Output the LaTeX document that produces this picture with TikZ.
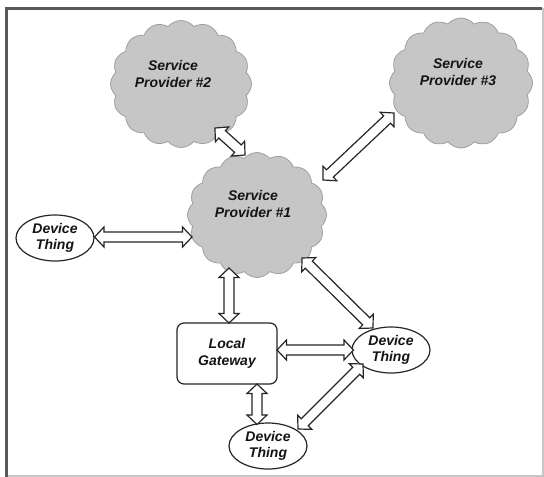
\documentclass[tikz,border=0pt]{standalone}
\usepackage{fontspec}
\setmainfont{Liberation Sans}
\usetikzlibrary{shapes.symbols,shapes.geometric,calc}

% hollow two-headed block arrow between two named points
\newcommand\fatarrow[2]{%
  \draw[blockarrow]
    (#1)
    -- ($(#1)!9.5pt!(#2)!10pt!90:(#2)$)
    -- ($(#1)!9.5pt!(#2)!5pt!90:(#2)$)
    -- ($(#2)!9.5pt!(#1)!5pt!-90:(#1)$)
    -- ($(#2)!9.5pt!(#1)!10pt!-90:(#1)$)
    -- (#2)
    -- ($(#2)!9.5pt!(#1)!10pt!90:(#1)$)
    -- ($(#2)!9.5pt!(#1)!5pt!90:(#1)$)
    -- ($(#1)!9.5pt!(#2)!5pt!-90:(#2)$)
    -- ($(#1)!9.5pt!(#2)!10pt!-90:(#2)$)
    -- cycle;}

\begin{document}
\begin{tikzpicture}[x=1pt,y=-1pt,
  lbl/.style={font=\fontsize{14}{16.5}\selectfont\bfseries\itshape,
    text=black!92, align=center, inner sep=0pt},
  provider/.style={cloud, cloud puffs=16, cloud puff arc=100, aspect=1.1,
    fill=gray!45, draw=gray!75, line width=0.8pt, inner sep=0pt},
  device/.style={ellipse, draw=black!85, fill=white, line width=1.2pt,
    minimum width=78pt, minimum height=46pt, inner sep=0pt, lbl},
  gateway/.style={rectangle, rounded corners=7pt, draw=black!85, fill=white,
    line width=1.2pt, minimum width=100pt, minimum height=61pt, inner sep=0pt, lbl},
  blockarrow/.style={draw=black!85, fill=white, line width=1.2pt, line join=miter}]

\useasboundingbox (0,0) rectangle (544,477);
\fill[white] (0,0) rectangle (544,477);

% frame
\draw[black!65, line width=3pt] (6.5,477) -- (6.5,8.5) -- (542,8.5);
\draw[black!22, line width=2pt] (542.5,8) -- (542.5,475.5) -- (8,475.5);

% service provider clouds
\node[provider, minimum width=141pt, minimum height=127pt] (sp2) at (181,84) {};
\node[lbl] (sp2t) at (173,74) {Service\\Provider \#2};

\node[provider, minimum width=143pt, minimum height=130pt] (sp3) at (461,83) {};
\node[lbl] (sp3t) at (458,72) {Service\\Provider \#3};

\node[provider, minimum width=139pt, minimum height=125pt] (sp1) at (257,215) {};
\node[lbl] (sp1t) at (253,204) {Service\\Provider \#1};

% local devices and gateway
\node[device] (dl) at (55,238) {Device\\Thing};
\node[gateway] (gw) at (227,353.5) {Local\\Gateway};
\node[device] (dr) at (391,350) {Device\\Thing};
\node[device] (db) at (268,446) {Device\\Thing};

% connector end points on the cloud outlines
\coordinate (sp2se) at (215,128);
\coordinate (sp1n)  at (245,155);
\coordinate (sp1ne) at (323,180);
\coordinate (sp3sw) at (394,113);
\coordinate (sp1w)  at (192,237);
\coordinate (sp1s)  at (229,268);
\coordinate (gwn)   at (229,323);
\coordinate (sp1se) at (302,258);
\coordinate (drnw)  at (373,328);
\coordinate (gwe)   at (277,350);
\coordinate (drw)   at (353.5,350);
\coordinate (gws)   at (257,384);
\coordinate (dbn)   at (257,424.5);
\coordinate (drsw)  at (363,364);
\coordinate (dbne)  at (298,429);
\coordinate (dle)   at (94.5,237);

% links
\fatarrow{sp2se}{sp1n}
\fatarrow{sp1ne}{sp3sw}
\fatarrow{dle}{sp1w}
\fatarrow{sp1s}{gwn}
\fatarrow{sp1se}{drnw}
\fatarrow{gwe}{drw}
\fatarrow{gws}{dbn}
\fatarrow{drsw}{dbne}
\end{tikzpicture}
\end{document}
